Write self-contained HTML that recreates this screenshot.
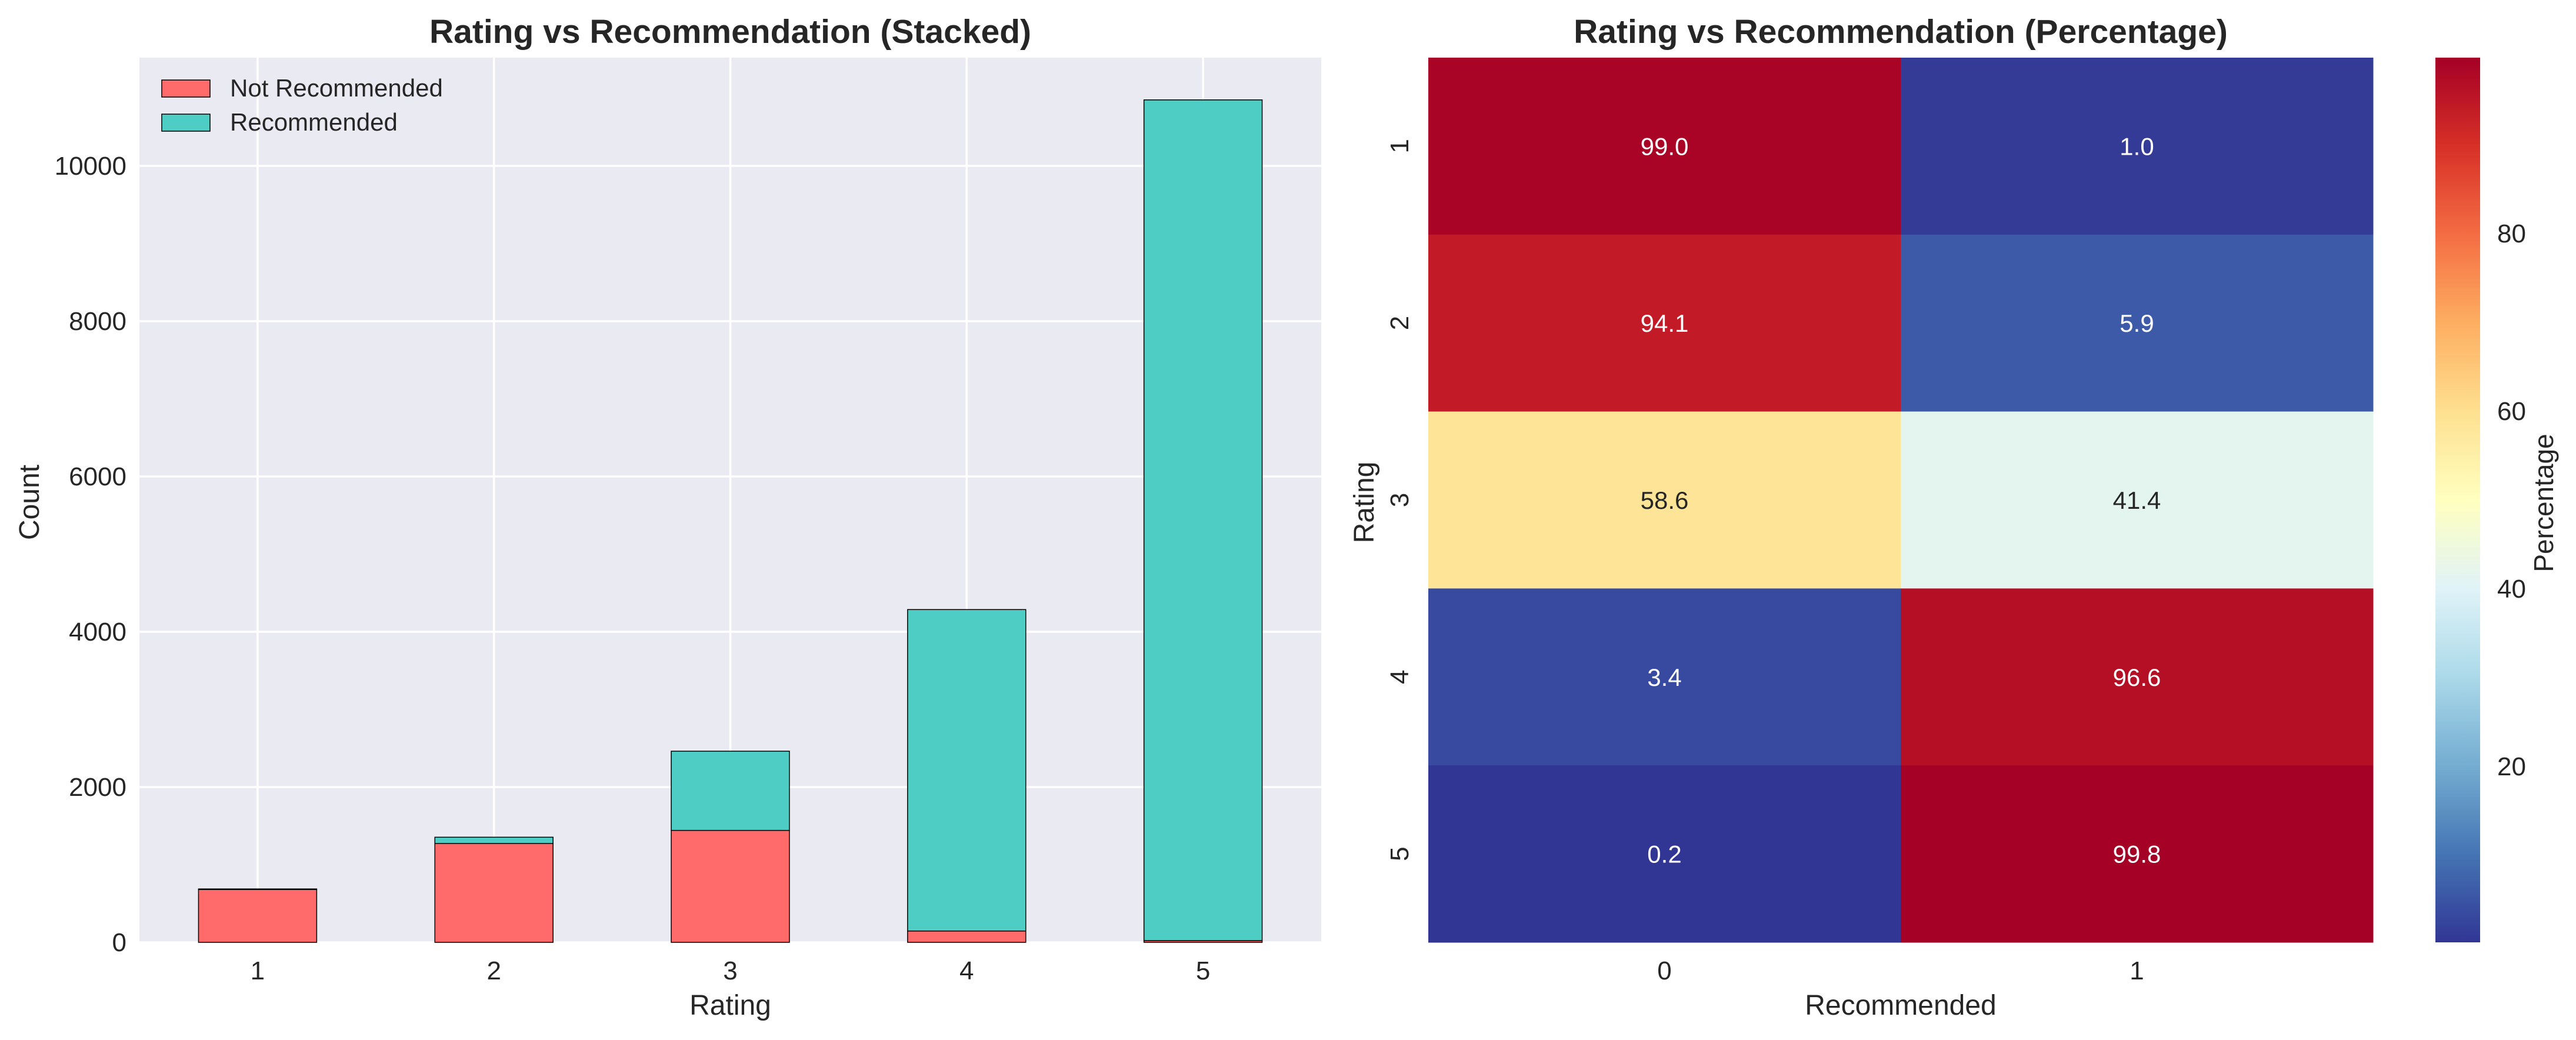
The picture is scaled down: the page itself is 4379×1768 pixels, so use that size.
<!DOCTYPE html>
<html><head><meta charset="utf-8"><style>
html,body{margin:0;padding:0;background:#fff;}
svg{display:block;font-family:"Liberation Sans",Arial,sans-serif;}
</style></head><body>
<svg id="fig" width="4379" height="1768" viewBox="0 0 4379 1768" xmlns="http://www.w3.org/2000/svg">
<g id="left"></g>
<g id="right"></g>
</svg>
<script>
const ratings = ["1","2","3","4","5"];
const notRecommended = [681, 1274, 1442, 146, 22];
const recommended = [7, 80, 1020, 4140, 10828];
const yTicks = [0, 2000, 4000, 6000, 8000, 10000];
const hmRows = ["1","2","3","4","5"];
const hmCols = ["0","1"];
const hmCol0 = [99.0, 94.1, 58.6, 3.4, 0.2];
const hmCol1 = [1.0, 5.9, 41.4, 96.6, 99.8];
const cbTicks = [20, 40, 60, 80];

const NS = "http://www.w3.org/2000/svg";
function mk(tag, attrs, parent, text){
  const e = document.createElementNS(NS, tag);
  for (const k in attrs) e.setAttribute(k, attrs[k]);
  if (text !== undefined) e.textContent = text;
  parent.appendChild(e);
  return e;
}
const L = document.getElementById('left');
const R = document.getElementById('right');

// ---- left chart ----
const ax = {l:237, r:2246, t:98, b:1602};
const yMax = 11394;
const yS = v => ax.b - v / yMax * (ax.b - ax.t);
const step = (ax.r - ax.l) / ratings.length;
const xS = i => ax.l + step * (i + 0.5);

let bg = mk('rect', {x:ax.l, y:ax.t, width:ax.r-ax.l, height:ax.b-ax.t, fill:'#eaeaf2'}, L);



yTicks.forEach(v => {
  const g = mk('line', {x1:ax.l, x2:ax.r, y1:yS(v), y2:yS(v), stroke:'#fff', 'stroke-width':3.5}, L);
  
  
  const t = mk('text', {x:ax.l-22, y:yS(v)+15, 'text-anchor':'end', 'font-size':44, fill:'#262626'}, L, String(v));
  
  
});
ratings.forEach((r, i) => {
  const g = mk('line', {x1:xS(i), x2:xS(i), y1:ax.t, y2:ax.b, stroke:'#fff', 'stroke-width':3.5}, L);
  
  
  const t = mk('text', {x:xS(i), y:1665, 'text-anchor':'middle', 'font-size':44, fill:'#262626'}, L, r);
  
  
});
const bw = step * 0.5;
ratings.forEach((r, i) => {
  const nr = notRecommended[i], rc = recommended[i];
  const b1 = mk('rect', {x:xS(i)-bw/2, y:yS(nr), width:bw, height:yS(0)-yS(nr), fill:'#ff6b6b', stroke:'#000', 'stroke-width':1.5}, L);
  
  
  const b2 = mk('rect', {x:xS(i)-bw/2, y:yS(nr+rc), width:bw, height:yS(nr)-yS(nr+rc), fill:'#4ecdc4', stroke:'#000', 'stroke-width':1.5}, L);
  
  
});
let tt = mk('text', {x:(ax.l+ax.r)/2, y:73, 'text-anchor':'middle', 'font-size':57, 'font-weight':'bold', fill:'#262626'}, L, 'Rating vs Recommendation (Stacked)');


let xl = mk('text', {x:(ax.l+ax.r)/2, y:1725, 'text-anchor':'middle', 'font-size':48, fill:'#262626'}, L, 'Rating');


let yl = mk('text', {x:0, y:0, 'text-anchor':'middle', 'font-size':48, fill:'#262626', transform:'translate(66,854) rotate(-90)'}, L, 'Count');


// legend
[['Not Recommended','#ff6b6b',136],['Recommended','#4ecdc4',194]].forEach(([lab,col,y]) => {
  const s = mk('rect', {x:275, y:y, width:82, height:29, fill:col, stroke:'#000', 'stroke-width':1.5}, L);
  
  
  const t = mk('text', {x:391, y:y+28, 'font-size':42, fill:'#262626'}, L, lab);
  
  
});

// ---- heatmap ----
const hm = {l:2428, r:4034, t:98, b:1602};
const anchors = ['#313695','#4575b4','#74add1','#abd9e9','#e0f3f8','#ffffbf','#fee090','#fdae61','#f46d43','#d73027','#a50026'];
const vmin = 0.2, vmax = 99.8;
function hex(h){return [1,3,5].map(i=>parseInt(h.substr(i,2),16));}
function cmap(v){
  let t = Math.max(0, Math.min(1, (v - vmin) / (vmax - vmin))) * (anchors.length - 1);
  const i = Math.min(Math.floor(t), anchors.length - 2), f = t - i;
  const a = hex(anchors[i]), b = hex(anchors[i+1]);
  return 'rgb(' + a.map((c,k)=>Math.round(c+(b[k]-c)*f)).join(',') + ')';
}
const cw = (hm.r - hm.l) / hmCols.length, ch = (hm.b - hm.t) / hmRows.length;
const cols = [hmCol0, hmCol1];
hmRows.forEach((r, i) => {
  cols.forEach((arr, j) => {
    const v = arr[i];
    const c = mk('rect', {x:hm.l + j*cw, y:hm.t + i*ch, width:cw+0.5, height:ch+0.5, fill:cmap(v)}, R);
    
    
    const dark = v > 30 && v < 70;
    const t = mk('text', {x:hm.l + (j+0.5)*cw, y:hm.t + (i+0.5)*ch + 15, 'text-anchor':'middle', 'font-size':42, fill: dark ? '#262626' : '#fff'}, R, v.toFixed(1));
    
    
  });
  const t = mk('text', {x:0, y:0, 'text-anchor':'middle', 'font-size':44, fill:'#262626', transform:'translate(2394,' + (hm.t+(i+0.5)*ch) + ') rotate(-90)'}, R, r);
  
  
});
hmCols.forEach((c, j) => {
  const t = mk('text', {x:hm.l + (j+0.5)*cw, y:1665, 'text-anchor':'middle', 'font-size':44, fill:'#262626'}, R, c);
  
  
});
let ht = mk('text', {x:(hm.l+hm.r)/2, y:73, 'text-anchor':'middle', 'font-size':57, 'font-weight':'bold', fill:'#262626'}, R, 'Rating vs Recommendation (Percentage)');


let hx = mk('text', {x:(hm.l+hm.r)/2, y:1725, 'text-anchor':'middle', 'font-size':48, fill:'#262626'}, R, 'Recommended');


let hy = mk('text', {x:0, y:0, 'text-anchor':'middle', 'font-size':48, fill:'#262626', transform:'translate(2335,854) rotate(-90)'}, R, 'Rating');


// colorbar
const cb = {l:4140, r:4216, t:98, b:1602};
const defs = mk('defs', {}, R);
const grad = mk('linearGradient', {id:'cbgrad', x1:0, y1:1, x2:0, y2:0}, defs);
anchors.forEach((a, k) => mk('stop', {offset: (k/(anchors.length-1)), 'stop-color': a}, grad));
let cbr = mk('rect', {x:cb.l, y:cb.t, width:cb.r-cb.l, height:cb.b-cb.t, fill:'url(#cbgrad)'}, R);


const cbY = v => cb.b - (v - vmin) / (vmax - vmin) * (cb.b - cb.t);
cbTicks.forEach(v => {
  const t = mk('text', {x:4245, y:cbY(v)+15, 'font-size':44, fill:'#262626'}, R, String(v));
  
  
});
let cl = mk('text', {x:0, y:0, 'text-anchor':'middle', 'font-size':46, fill:'#262626', transform:'translate(4340,855) rotate(-90)'}, R, 'Percentage');


</script>
</body></html>
